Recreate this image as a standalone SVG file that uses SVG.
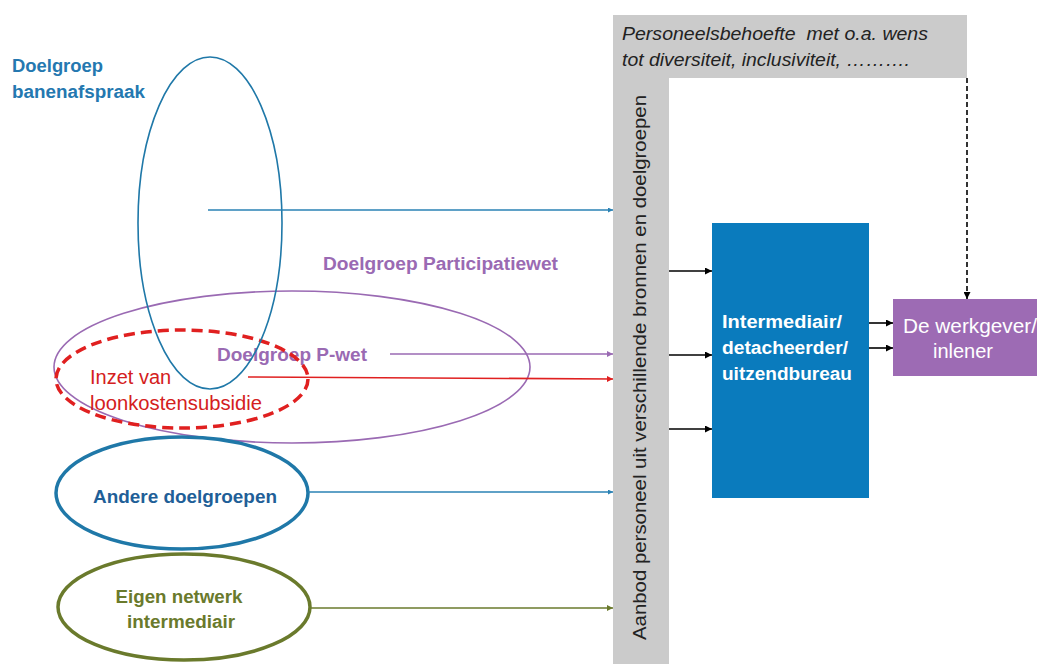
<svg xmlns="http://www.w3.org/2000/svg" width="1037" height="664" viewBox="0 0 1037 664">
<style>
text{font-family:"Liberation Sans",Arial,sans-serif;}
.b{font-weight:bold;}
.lbl{font-size:18px;}
.ln{fill:none;stroke-width:1.6;}
</style>
<defs>
<marker id="mBlue" viewBox="0 0 10 10" refX="10" refY="5" markerWidth="5" markerHeight="5" orient="auto" markerUnits="userSpaceOnUse"><path d="M0,0 L10,5 L0,10 z" fill="#2a82b4"/></marker>
<marker id="mPur" viewBox="0 0 10 10" refX="10" refY="5" markerWidth="6" markerHeight="6" orient="auto" markerUnits="userSpaceOnUse"><path d="M0,0 L10,5 L0,10 z" fill="#9a6ab3"/></marker>
<marker id="mRed" viewBox="0 0 10 10" refX="10" refY="5" markerWidth="6" markerHeight="6" orient="auto" markerUnits="userSpaceOnUse"><path d="M0,0 L10,5 L0,10 z" fill="#e02020"/></marker>
<marker id="mOl" viewBox="0 0 10 10" refX="10" refY="5" markerWidth="6" markerHeight="6" orient="auto" markerUnits="userSpaceOnUse"><path d="M0,0 L10,5 L0,10 z" fill="#6a7a2c"/></marker>
<marker id="mBlk" viewBox="0 0 10 10" refX="10" refY="5" markerWidth="7" markerHeight="7" orient="auto" markerUnits="userSpaceOnUse"><path d="M0,0 L10,5 L0,10 z" fill="#000"/></marker>
</defs>
<rect width="1037" height="664" fill="#fff"/>

<g id="aanbod">
<path d="M613,15 H967 V78 H669 V664 H613 Z" fill="#cbcbcb"/>
<text class="lbl" font-style="italic" x="622" y="40" textLength="306" lengthAdjust="spacingAndGlyphs" fill="#222" style="white-space:pre">Personeelsbehoefte  met o.a. wens</text>
<text class="lbl" font-style="italic" x="622" y="66" textLength="288" lengthAdjust="spacingAndGlyphs" fill="#222">tot diversiteit, inclusiviteit, ……….</text>
<text class="lbl" transform="translate(646,640) rotate(-90)" x="0" y="0" textLength="545" lengthAdjust="spacingAndGlyphs" fill="#222">Aanbod personeel uit verschillende bronnen en doelgroepen</text>
</g>

<g id="intermediair">
<rect x="712" y="223" width="157" height="275" fill="#0a7bbd"/>
<text class="lbl b" fill="#fff" x="722" y="328" textLength="120" lengthAdjust="spacingAndGlyphs">Intermediair/</text>
<text class="lbl b" fill="#fff" x="722" y="354" textLength="126" lengthAdjust="spacingAndGlyphs">detacheerder/</text>
<text class="lbl b" fill="#fff" x="722" y="380" textLength="130" lengthAdjust="spacingAndGlyphs">uitzendbureau</text>
</g>

<g id="werkgever">
<rect x="893" y="299" width="150" height="77" fill="#9d6bb4"/>
<text fill="#fff" x="903" y="333" font-size="20" textLength="134" lengthAdjust="spacingAndGlyphs">De werkgever/</text>
<text fill="#fff" x="963" y="358" font-size="20" text-anchor="middle">inlener</text>
</g>

<g id="banenafspraak">
<text class="lbl b" fill="#2478b0" x="12" y="72" textLength="91" lengthAdjust="spacingAndGlyphs">Doelgroep</text>
<text class="lbl b" fill="#2478b0" x="12" y="98" textLength="133" lengthAdjust="spacingAndGlyphs">banenafspraak</text>
</g>

<g id="participatiewet">
<text class="lbl b" fill="#9a6ab3" x="323" y="270" textLength="235" lengthAdjust="spacingAndGlyphs">Doelgroep Participatiewet</text>
<ellipse cx="292" cy="367" rx="238" ry="76" class="ln" stroke="#9a6ab3"/>
<text class="lbl b" fill="#9a6ab3" x="217" y="361" textLength="150" lengthAdjust="spacingAndGlyphs">Doelgroep P-wet</text>
</g>

<g id="loonkosten">
<text fill="#d42020" x="90" y="384" font-size="20">Inzet van</text>
<text fill="#d42020" x="90" y="410" font-size="20" textLength="172" lengthAdjust="spacingAndGlyphs">loonkostensubsidie</text>
<ellipse cx="182" cy="379" rx="126" ry="49" fill="none" stroke="#e02020" stroke-width="3.5" stroke-dasharray="11,6"/>
</g>

<g id="banen-ellipse">
<ellipse cx="210" cy="223" rx="72" ry="166" class="ln" stroke="#1f78a8" stroke-width="2"/>
</g>

<g id="andere">
<ellipse cx="182" cy="493" rx="126" ry="56" fill="none" stroke="#1f78a8" stroke-width="3.5"/>
<text class="lbl b" fill="#1f5f98" x="185" y="503" text-anchor="middle" textLength="184" lengthAdjust="spacingAndGlyphs">Andere doelgroepen</text>
</g>

<g id="eigen">
<ellipse cx="184" cy="607" rx="126" ry="53" fill="none" stroke="#6a7a2c" stroke-width="3.5"/>
<text class="lbl b" fill="#6a7a2c" x="179" y="603" text-anchor="middle" textLength="127" lengthAdjust="spacingAndGlyphs">Eigen netwerk</text>
<text class="lbl b" fill="#6a7a2c" x="181" y="628" text-anchor="middle" textLength="108" lengthAdjust="spacingAndGlyphs">intermediair</text>
</g>

<g id="connectors">
<line x1="208" y1="210" x2="613" y2="210" class="ln" stroke="#2a82b4" marker-end="url(#mBlue)"/>
<line x1="390" y1="354" x2="613" y2="354" class="ln" stroke="#9a6ab3" marker-end="url(#mPur)"/>
<line x1="248" y1="377" x2="613" y2="379" class="ln" stroke="#e02020" stroke-width="2" marker-end="url(#mRed)"/>
<line x1="308" y1="492" x2="613" y2="492" class="ln" stroke="#2a82b4" marker-end="url(#mBlue)"/>
<line x1="310" y1="608" x2="613" y2="608" class="ln" stroke="#6a7a2c" marker-end="url(#mOl)"/>
<line x1="669" y1="271" x2="712" y2="271" class="ln" stroke="#000" marker-end="url(#mBlk)"/>
<line x1="669" y1="355" x2="712" y2="355" class="ln" stroke="#000" marker-end="url(#mBlk)"/>
<line x1="669" y1="429" x2="712" y2="429" class="ln" stroke="#000" marker-end="url(#mBlk)"/>
<line x1="869" y1="323" x2="893" y2="323" class="ln" stroke="#000" marker-end="url(#mBlk)"/>
<line x1="869" y1="348" x2="893" y2="348" class="ln" stroke="#000" marker-end="url(#mBlk)"/>
<line x1="967" y1="78" x2="967" y2="299" class="ln" stroke="#000" stroke-dasharray="5,3" marker-end="url(#mBlk)"/>
</g>
</svg>
